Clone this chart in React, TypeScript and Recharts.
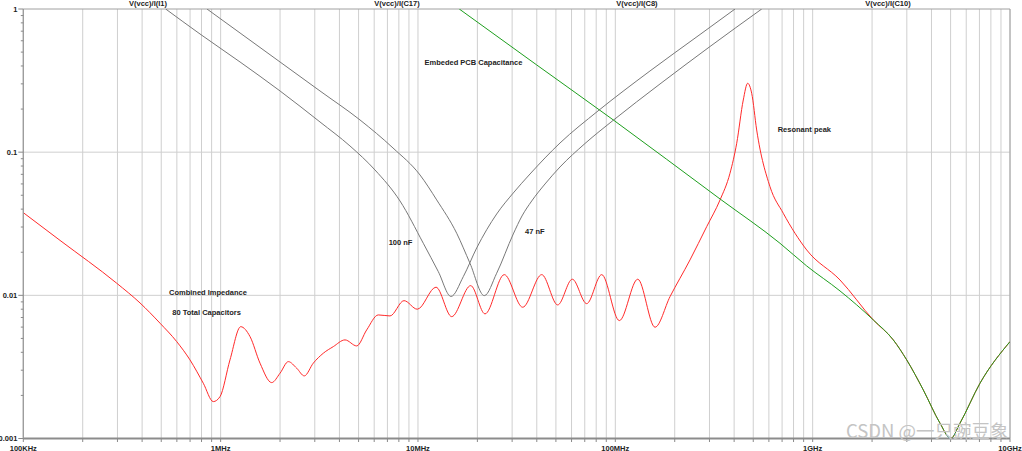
import React from 'react';
import { LineChart, Line, XAxis, YAxis, CartesianGrid, ReferenceArea } from 'recharts';

// frequency in MHz, impedance in ohms
const combinedImpedance = [
  { f: 0.1, z: 0.0378 }, { f: 0.1535, z: 0.0242 }, { f: 0.2974, z: 0.01215 }, { f: 0.3903, z: 0.00885 },
  { f: 0.4929, z: 0.00639 }, { f: 0.599, z: 0.00475 }, { f: 0.6993, z: 0.00354 }, { f: 0.8167, z: 0.002433 },
  { f: 0.918, z: 0.00181 }, { f: 0.9927, z: 0.00196 }, { f: 1.115, z: 0.00354 }, { f: 1.264, z: 0.00604 },
  { f: 1.409, z: 0.00515 }, { f: 1.583, z: 0.00336 }, { f: 1.814, z: 0.002457 }, { f: 2.0, z: 0.002858 },
  { f: 2.203, z: 0.003443 }, { f: 2.429, z: 0.003097 }, { f: 2.654, z: 0.002737 }, { f: 2.948, z: 0.00336 },
  { f: 3.313, z: 0.003941 }, { f: 3.724, z: 0.004384 }, { f: 4.268, z: 0.004883 }, { f: 4.892, z: 0.004432 },
  { f: 5.496, z: 0.005733 }, { f: 6.293, z: 0.007297 }, { f: 7.215, z: 0.00718 }, { f: 8.495, z: 0.00918 },
  { f: 9.92, z: 0.008 }, { f: 12.34, z: 0.0114 }, { f: 14.82, z: 0.0071 }, { f: 18.5, z: 0.01169 },
  { f: 21.86, z: 0.00742 }, { f: 27.37, z: 0.01395 }, { f: 33.94, z: 0.00826 }, { f: 42.37, z: 0.01395 },
  { f: 51.05, z: 0.00857 }, { f: 60.53, z: 0.01296 }, { f: 71.61, z: 0.00875 }, { f: 85.31, z: 0.01395 },
  { f: 104.8, z: 0.00666 }, { f: 129.9, z: 0.01296 }, { f: 158.9, z: 0.00599 }, { f: 189.3, z: 0.00979 },
  { f: 239.0, z: 0.01767 }, { f: 290.5, z: 0.0302 }, { f: 339.4, z: 0.0464 }, { f: 381.1, z: 0.0712 },
  { f: 412.2, z: 0.1154 }, { f: 445.0, z: 0.2314 }, { f: 468.5, z: 0.3029 }, { f: 491.0, z: 0.2578 },
  { f: 520.4, z: 0.1429 }, { f: 607.8, z: 0.0574 }, { f: 710.0, z: 0.0374 }, { f: 932.8, z: 0.02075 },
  { f: 1376, z: 0.0128 }, { f: 2029, z: 0.00673 }, { f: 2563, z: 0.00488 }, { f: 2996, z: 0.00354 },
  { f: 3636, z: 0.002184 }, { f: 4418, z: 0.00128 }, { f: 5005, z: 0.001 }, { f: 5579, z: 0.00128 },
  { f: 7047, z: 0.002433 }, { f: 10000, z: 0.00475 },
];

const embeddedPcbCap = [
  { f: 16.19, z: 1 }, { f: 39.99, z: 0.4064 }, { f: 97.68, z: 0.1679 }, { f: 339.4, z: 0.0471 },
  { f: 683.1, z: 0.0231 }, { f: 932.8, z: 0.01604 }, { f: 1376, z: 0.01073 }, { f: 2029, z: 0.00673 },
  { f: 2563, z: 0.00488 }, { f: 2996, z: 0.00354 }, { f: 3636, z: 0.002184 }, { f: 4418, z: 0.00128 },
  { f: 5005, z: 0.001 }, { f: 5579, z: 0.00128 }, { f: 7047, z: 0.002433 }, { f: 10000, z: 0.00475 },
];

const cap100nF = [
  { f: 0.5267, z: 1 }, { f: 0.786, z: 0.669 }, { f: 1.254, z: 0.4265 }, { f: 2.0, z: 0.2676 },
  { f: 3.188, z: 0.1625 }, { f: 4.523, z: 0.1105 }, { f: 6.056, z: 0.0751 }, { f: 8.108, z: 0.0456 },
  { f: 10.64, z: 0.0231 }, { f: 12.68, z: 0.01463 }, { f: 14.7, z: 0.00982 }, { f: 16.97, z: 0.01351 },
  { f: 19.84, z: 0.02143 }, { f: 25.05, z: 0.037 }, { f: 30.41, z: 0.0519 }, { f: 36.96, z: 0.0704 },
  { f: 52.45, z: 0.1159 }, { f: 81.7, z: 0.194 }, { f: 149.8, z: 0.369 }, { f: 268.7, z: 0.6637 },
  { f: 404.1, z: 1 },
];

const cap47nF = [
  { f: 0.853, z: 1 }, { f: 1.254, z: 0.68 }, { f: 2.0, z: 0.4265 }, { f: 3.188, z: 0.2676 },
  { f: 5.083, z: 0.1679 }, { f: 7.469, z: 0.107 }, { f: 10.24, z: 0.0693 }, { f: 12.44, z: 0.0464 },
  { f: 15.71, z: 0.02714 }, { f: 18.34, z: 0.01676 }, { f: 21.68, z: 0.00995 }, { f: 25.05, z: 0.01427 },
  { f: 30.41, z: 0.02685 }, { f: 33.66, z: 0.03584 }, { f: 37.7, z: 0.0456 }, { f: 44.03, z: 0.05996 },
  { f: 52.45, z: 0.0788 }, { f: 70.22, z: 0.115 }, { f: 97.34, z: 0.1665 }, { f: 168.4, z: 0.2994 },
  { f: 301.9, z: 0.547 }, { f: 551.9, z: 1 },
];

const xDecades = [0.1, 1, 10, 100, 1000, 10000];
const xDecadeLabels = ['100KHz', '1MHz', '10MHz', '100MHz', '1GHz', '10GHz'];
const yDecades = [0.001, 0.01, 0.1, 1];
const yDecadeLabels = ['0.001', '0.01', '0.1', '1'];
const multipliers = [1, 2, 3, 4, 5, 6, 7, 8, 9];

const traceLabels = ['V(vcc)/I(I1)', 'V(vcc)/I(C17)', 'V(vcc)/I(C8)', 'V(vcc)/I(C10)'];
const traceLabelX = [148, 397, 637, 888];

const expand = (decades: number[]) =>
  decades.slice(0, -1).flatMap((d) => multipliers.map((m) => +(d * m).toPrecision(6))).concat([decades[decades.length - 1]]);
const xTicks = expand(xDecades);
const yTicks = expand(yDecades);

const FONT = 'Liberation Sans, Arial, sans-serif';

const findDecade = (list: number[], v: number) => list.findIndex((d) => Math.abs(v - d) < d * 1e-6);

const XTick = (props: any) => {
  const { x, y, payload } = props;
  const i = findDecade(xDecades, payload.value);
  return (
    <g>
      <line x1={x} x2={x} y1={y} y2={y + 3.5} stroke="#8a8a8a" strokeWidth={1} />
      {i >= 0 && (
        <text x={x} y={y + 12} textAnchor="middle" fontSize={7.5} fontWeight="bold" fill="#222" fontFamily={FONT}>
          {xDecadeLabels[i]}
        </text>
      )}
    </g>
  );
};

const YTick = (props: any) => {
  const { x, y, payload } = props;
  const i = findDecade(yDecades, payload.value);
  const len = i >= 0 ? 5 : 2.5;
  return (
    <g>
      <line x1={x - len} x2={x} y1={y} y2={y} stroke="#8a8a8a" strokeWidth={1} />
      {i >= 0 && (
        <text x={x - 6} y={y + 2.7} textAnchor="end" fontSize={7.5} fontWeight="bold" fill="#222" fontFamily={FONT}>
          {yDecadeLabels[i]}
        </text>
      )}
    </g>
  );
};

const annotations = [
  { text: 'Embeded PCB Capacitance', x: 424.5, y: 64.7 },
  { text: '100 nF', x: 388.7, y: 245.4 },
  { text: '47 nF', x: 525, y: 234.4 },
  { text: 'Resonant peak', x: 777.7, y: 132.4 },
  { text: 'Combined Impedance', x: 169, y: 294.7 },
  { text: '80 Total Capacitors', x: 172.3, y: 315.4 },
];

export default function App() {
  return (
    <div style={{ position: 'absolute', left: 0, top: 0, width: 1022, height: 451, background: '#fff' }}>
      <LineChart width={1022} height={451} data={combinedImpedance} margin={{ top: 9, right: 12, bottom: 0, left: 0 }}>
        <CartesianGrid stroke="#cfcfcf" strokeWidth={1} horizontalValues={[0.01, 0.1]} />
        <XAxis
          dataKey="f"
          type="number"
          scale="log"
          domain={[0.1, 10000]}
          ticks={xTicks}
          interval={0}
          allowDataOverflow
          height={12.5}
          tickSize={0}
          tickMargin={0}
          tickLine={false}
          tick={<XTick />}
          axisLine={{ stroke: '#8c8c8c', strokeWidth: 2 }}
        />
        <YAxis
          dataKey="z"
          type="number"
          scale="log"
          domain={[0.001, 1]}
          ticks={yTicks}
          interval={0}
          allowDataOverflow
          width={23.3}
          tickSize={0}
          tickMargin={0}
          tickLine={false}
          tick={<YTick />}
          axisLine={{ stroke: '#9a9a9a' }}
        />
        <ReferenceArea x1={0.1} x2={10000} y1={0.001} y2={1} fill="none" stroke="#a0a0a0" strokeWidth={1} />
        <Line data={cap100nF} dataKey="z" type="monotone" stroke="#787878" strokeWidth={1} dot={false} activeDot={false} isAnimationActive={false} />
        <Line data={cap47nF} dataKey="z" type="monotone" stroke="#787878" strokeWidth={1} dot={false} activeDot={false} isAnimationActive={false} />
        <Line data={combinedImpedance} dataKey="z" type="monotone" stroke="#ff2a2a" strokeWidth={1} dot={false} activeDot={false} isAnimationActive={false} />
        <Line data={embeddedPcbCap} dataKey="z" type="monotone" stroke="#1e9e1e" strokeWidth={1} dot={false} activeDot={false} isAnimationActive={false} />
      </LineChart>
      <svg width={1022} height={451} style={{ position: 'absolute', left: 0, top: 0, pointerEvents: 'none' }}>
        {traceLabels.map((t, i) => (
          <text key={t} x={traceLabelX[i]} y={5.5} textAnchor="middle" fontSize={7.5} fontWeight="bold" fill="#222" fontFamily={FONT}>
            {t}
          </text>
        ))}
        {annotations.map((a) => (
          <text key={a.text} x={a.x} y={a.y} fontSize={7.5} fontWeight="bold" fill="#222" fontFamily={FONT}>
            {a.text}
          </text>
        ))}
        <text x={846} y={438} fontSize={18.5} fill="#c4c4c4" fontFamily="Noto Sans CJK SC, sans-serif">
          CSDN @一只豌豆象
        </text>
      </svg>
    </div>
  );
}
